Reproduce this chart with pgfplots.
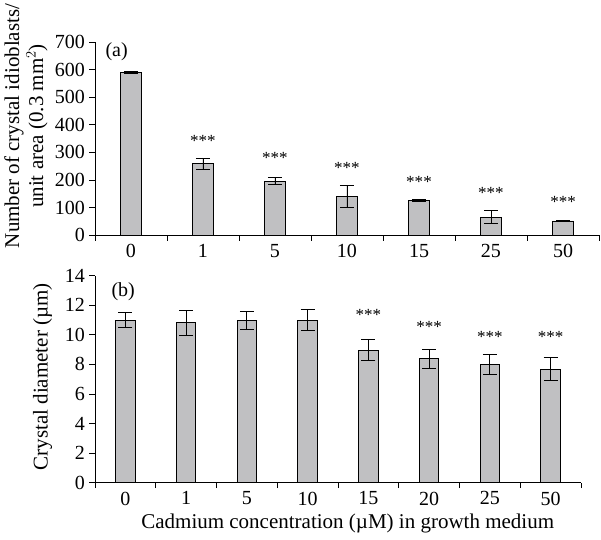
\documentclass[border=0pt]{standalone}
\usepackage{fontspec}
\setmainfont{Liberation Serif}
\usepackage{pgfplots}
\pgfplotsset{compat=1.18}

\definecolor{barfill}{RGB}{192,192,194}

\pgfplotsset{
  cdbars/.style={
    scale only axis,
    axis lines=left,
    axis line style={-, line width=0.8pt},
    ybar,
    ymin=0,
    enlargelimits=false,
    tick align=outside,
    tick style={line width=0.8pt, black},
    major tick length=5.5pt,
    minor tick length=5.5pt,
    major x tick style={draw=none},
    xtick=data,
    /pgf/number format/assume math mode=true,
    tick label style={font=\fontsize{20}{23}\selectfont},
    label style={font=\fontsize{21}{24}\selectfont},
    xticklabel style={yshift=0pt},
    yticklabel style={xshift=-1pt},
  },
  cderr/.style={
    fill=barfill, draw=black, line width=0.8pt,
    error bars/.cd, y dir=both, y explicit,
    error bar style={line width=0.8pt, black},
    error mark options={rotate=90, mark size=7pt, line width=0.8pt, black},
  },
}
\tikzset{stars/.style={font=\fontsize{17}{19}\selectfont}}

\begin{document}
\begin{tikzpicture}[font=\fontsize{20}{23}\selectfont]
\useasboundingbox (-95pt,-304pt) rectangle (506pt,235pt);

% (a) number of crystal idioblasts
\begin{axis}[cdbars,
  width=504pt, height=192.7pt,
  bar width=21pt,
  xmin=-0.5, xmax=6.5,
  ymax=700, ytick={0,100,...,700},
  xticklabels={0,1,5,10,15,25,50},
  minor xtick={-0.5,0.5,...,6.5},
  ylabel style={at={(axis description cs:-0.137,0.566)}, rotate=0, anchor=center, align=center},
  ylabel={Number of crystal idioblasts/\\unit area (0.3~mm$^2$)},
]
\addplot[cderr] coordinates {
  (0,590) +- (0,4)
  (1,260) +- (0,20)
  (2,196) +- (0,13)
  (3,140) +- (0,40)
  (4,125) +- (0,4)
  (5,65)  +- (0,23)
  (6,51)  +- (0,1)
};
\node at (rel axis cs:0.043,0.95) {(a)};
\node[stars] at (axis cs:1,341) {***};
\node[stars] at (axis cs:2,281) {***};
\node[stars] at (axis cs:3,242) {***};
\node[stars] at (axis cs:4,191) {***};
\node[stars] at (axis cs:5,154) {***};
\node[stars] at (axis cs:6,121) {***};
\end{axis}

% (b) crystal diameter
\begin{axis}[cdbars,
  at={(0pt,-247.7pt)}, anchor=south west,
  width=486pt, height=207pt,
  bar width=19.5pt,
  xmin=-0.5, xmax=7.5,
  ymax=14, ytick={0,2,...,14},
  xticklabels={0,1,5,10,15,20,25,50},
  minor xtick={-0.5,0.5,...,7.5},
  ylabel style={at={(axis description cs:-0.108,0.512)}, rotate=0, anchor=center},
  ylabel={Crystal diameter (µm)},
  xlabel style={at={(axis description cs:0.52,-0.195)}, anchor=center},
  xlabel={Cadmium concentration (µM) in growth medium},
]
\addplot[cderr] coordinates {
  (0,11.0)  +- (0,0.52)
  (1,10.82) +- (0,0.85)
  (2,11.0)  +- (0,0.6)
  (3,11.0)  +- (0,0.7)
  (4,8.97)  +- (0,0.7)
  (5,8.39)  +- (0,0.65)
  (6,8.02)  +- (0,0.68)
  (7,7.67)  +- (0,0.78)
};
\node at (rel axis cs:0.058,0.923) {(b)};
\node[stars] at (axis cs:4,11.34) {***};
\node[stars] at (axis cs:5,10.55) {***};
\node[stars] at (axis cs:6,9.87) {***};
\node[stars] at (axis cs:7,9.87) {***};
\end{axis}
\end{tikzpicture}
\end{document}
